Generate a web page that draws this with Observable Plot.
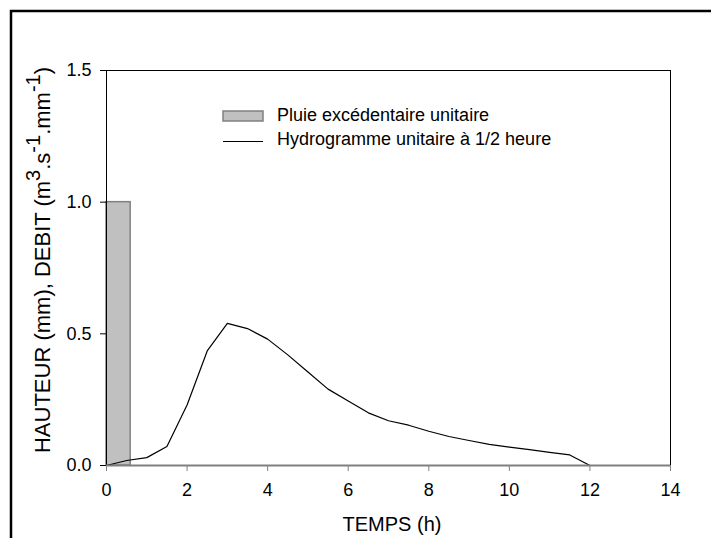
<!DOCTYPE html>
<html><head><meta charset="utf-8">
<script src="https://cdn.jsdelivr.net/npm/d3@7"></script>
<script src="https://cdn.jsdelivr.net/npm/@observablehq/plot@0.6"></script>
<style>
body{margin:0;background:#fff}
#chart{position:relative;width:711px;height:538px;font-family:"Liberation Sans",Arial,sans-serif}
</style>
</head><body><div id="chart"></div>
<script>
// Rain (unit excess rainfall) bar
const rainStart = [0];
const rainEnd = [0.6];
const rainDepth = [1.0];
// Unit hydrograph
const time = [0,0.5,1,1.5,2,2.5,3,3.5,4,4.5,5,5.5,6,6.5,7,7.5,8,8.5,9,9.5,10,10.5,11,11.5,12];
const flow = [0,0.019,0.03,0.072,0.23,0.435,0.54,0.52,0.48,0.42,0.355,0.29,0.245,0.2,0.17,0.153,0.13,0.11,0.095,0.08,0.07,0.06,0.05,0.04,0];
const xTicks = [0,2,4,6,8,10,12,14];
const yTicks = [0,0.5,1.0,1.5];
const legendLabels = ["Pluie excédentaire unitaire","Hydrogramme unitaire à 1/2 heure"];
const xTitle = "TEMPS (h)";

const rain = rainStart.map((s,i)=>({x1:s,x2:rainEnd[i],h:rainDepth[i]}));
const hydro = time.map((t,i)=>({t,q:flow[i]}));

const plot = Plot.plot({
  width:711, height:538,
  marginLeft:106, marginRight:41, marginTop:70, marginBottom:73,
  style:{fontFamily:'"Liberation Sans",Arial,sans-serif', background:"#fff", color:"#000"},
  x:{domain:[0,14], axis:null},
  y:{domain:[0,1.5], axis:null},
  marks:[
    Plot.rect(rain,{x1:"x1",x2:"x2",y1:0,y2:"h",fill:"#c0c0c0",stroke:"#808080",strokeWidth:1.5}),
    Plot.line(hydro,{x:"t",y:"q",stroke:"#000",strokeWidth:1.2}),
    Plot.ruleY([1.5],{stroke:"#000",strokeWidth:1}),
    Plot.ruleX([14],{stroke:"#000",strokeWidth:1}),
    Plot.ruleX([0],{stroke:"#000",strokeWidth:1}),
    Plot.ruleY([0],{stroke:"#808080",strokeWidth:2}),
    Plot.axisX(xTicks,{anchor:"bottom",tickSize:6,tickPadding:12,stroke:"#808080",fontSize:18,tickFormat:d=>String(d),label:null}),
    Plot.axisY(yTicks,{anchor:"left",tickSize:6,tickPadding:9,stroke:"#000",fontSize:18,tickFormat:d3.format(".1f"),label:null})
  ]
});
document.getElementById("chart").appendChild(plot);

const svg = d3.select(plot);
// outer frame
svg.append("path").attr("d","M11,538 V11 H711").attr("fill","none").attr("stroke","#000").attr("stroke-width",2.5);

// legend
const lg = svg.append("g").attr("font-size",18).attr("fill","#000").attr("text-anchor","start");
lg.append("rect").attr("x",223).attr("y",111).attr("width",40).attr("height",10)
  .attr("fill","#c0c0c0").attr("stroke","#808080").attr("stroke-width",1.5);
lg.append("text").attr("x",277).attr("y",121).text(legendLabels[0]);
lg.append("line").attr("x1",223).attr("x2",263).attr("y1",141.5).attr("y2",141.5).attr("stroke","#000").attr("stroke-width",1.2);
lg.append("text").attr("x",277).attr("y",145).text(legendLabels[1]);

// x title
svg.append("text").attr("x",392).attr("y",531).attr("text-anchor","middle").attr("font-size",20).text(xTitle);

// y title with superscripts
const yt = svg.append("text").attr("transform","translate(50,260) rotate(-90)").attr("text-anchor","middle").attr("font-size",22);
yt.append("tspan").text("HAUTEUR (mm), DEBIT (m");
yt.append("tspan").attr("font-size",20).attr("dy",-10).text("3");
yt.append("tspan").attr("dy",10).text(".s");
yt.append("tspan").attr("font-size",20).attr("dy",-10).text("-1");
yt.append("tspan").attr("dy",10).text(".mm");
yt.append("tspan").attr("font-size",20).attr("dy",-10).text("-1");
yt.append("tspan").attr("dy",10).text(")");
</script>
</body></html>
